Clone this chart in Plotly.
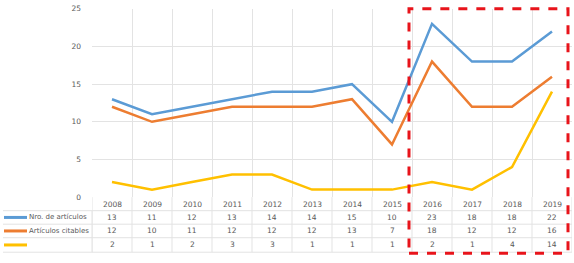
import plotly.graph_objects as go

years = [2008, 2009, 2010, 2011, 2012, 2013, 2014, 2015, 2016, 2017, 2018, 2019]
nro_articulos = [13, 11, 12, 13, 14, 14, 15, 10, 23, 18, 18, 22]
articulos_citables = [12, 10, 11, 12, 12, 12, 13, 7, 18, 12, 12, 16]
tercera_serie = [2, 1, 2, 3, 3, 1, 1, 1, 2, 1, 4, 14]
series_names = ["Nro. de artículos", "Artículos citables", ""]
colors = ["#5b9bd5", "#ed7d31", "#ffc000"]
y_ticks = [0, 5, 10, 15, 20, 25]

W, H = 574, 263
def py(p):  # pixel y -> paper
    return (H - p) / H
def px(p):
    return p / W

x_left, x_right = 92, 572
y_top, y_zero = 5, 200
row_lines = [214, 228, 242, 257]
row_centers = [207.5, 221, 235, 249.5]

fig = go.Figure()
all_series = [nro_articulos, articulos_citables, tercera_serie]
for vals, name, c in zip(all_series, series_names, colors):
    fig.add_trace(go.Scatter(x=years, y=vals, mode="lines", name=name,
                             line=dict(color=c, width=2.5), showlegend=False))

font = dict(family="DejaVu Sans", size=7.5, color="#595959")
legend_font = dict(family="DejaVu Sans", size=7, color="#595959")

fig.update_layout(
    width=W, height=H, margin=dict(l=0, r=0, t=0, b=0),
    paper_bgcolor="white", plot_bgcolor="white",
    xaxis=dict(domain=[px(x_left), px(x_right)], range=[years[0] - 0.5, years[-1] + 0.5],
               tickvals=[y - 0.5 for y in years] + [years[-1] + 0.5], showticklabels=False,
               showgrid=True, gridcolor="#e3e3e3", gridwidth=1, zeroline=False, showline=False),
    yaxis=dict(domain=[py(y_zero), py(y_top)], range=[0, 25], tickvals=y_ticks,
               showgrid=True, gridcolor="#e3e3e3", gridwidth=1, zeroline=False,
               tickfont=font, ticks="", ticklabelstandoff=10),
)

shapes = []
# vertical lines through the table
for b in [y - 0.5 for y in years] + [years[-1] + 0.5]:
    shapes.append(dict(type="line", xref="x", yref="paper", x0=b, x1=b,
                       y0=py(row_lines[-1]), y1=py(y_zero), line=dict(color="#e3e3e3", width=1)))
# horizontal table lines
for i, r in enumerate(row_lines):
    shapes.append(dict(type="line", xref="paper", yref="paper", x0=px(3), x1=px(x_right),
                       y0=py(r), y1=py(r), line=dict(color="#e3e3e3", width=1)))
shapes.append(dict(type="line", xref="paper", yref="paper", x0=px(x_left), x1=px(x_left),
                   y0=py(row_lines[0]), y1=py(row_lines[-1]), line=dict(color="#e3e3e3", width=1)))
# legend keys
for i, c in enumerate(colors):
    yc = py(row_centers[i + 1])
    shapes.append(dict(type="line", xref="paper", yref="paper", x0=px(4), x1=px(27),
                       y0=yc, y1=yc, line=dict(color=c, width=3)))
# red dashed highlight box
shapes.append(dict(type="rect", xref="paper", yref="paper", x0=px(409), x1=px(568),
                   y0=py(258), y1=py(5), line=dict(color="#e8141b", width=3, dash="dash")))
fig.update_layout(shapes=shapes)

ann = []
for y in years:
    ann.append(dict(x=y, y=py(row_centers[0]), xref="x", yref="paper", text=str(y),
                    xanchor="center", yanchor="middle", showarrow=False, font=font))
for i, vals in enumerate(all_series):
    for y, v in zip(years, vals):
        ann.append(dict(x=y, y=py(row_centers[i + 1]), xref="x", yref="paper", text=str(v),
                        xanchor="center", yanchor="middle", showarrow=False, font=font))
    ann.append(dict(x=px(27), y=py(row_centers[i + 1]), xref="paper", yref="paper",
                    text=series_names[i], xanchor="left", yanchor="middle",
                    showarrow=False, font=legend_font))
fig.update_layout(annotations=ann)

fig.write_html("out.html", config={"displayModeBar": False},
               post_script="document.body.style.margin='0';document.body.style.padding='0';")
